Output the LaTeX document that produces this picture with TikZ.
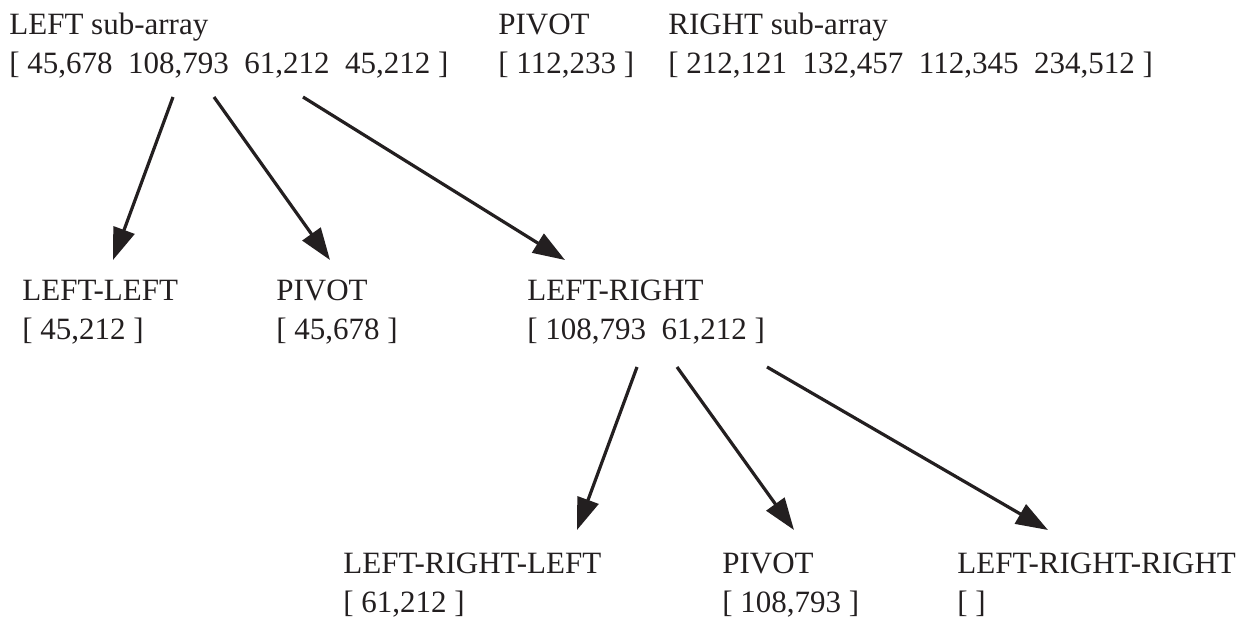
\documentclass[tikz,border=0pt]{standalone}
\usepackage{fontspec}
\setmainfont{Liberation Serif}
\usetikzlibrary{arrows.meta}
\definecolor{inkblack}{HTML}{231F20}
\begin{document}
\begin{tikzpicture}[x=0.5pt, y=-0.5pt]
                    \tikzset{part/.style={align=left, anchor=base west, inner sep=0pt, text=inkblack,
                                          font=\fontsize{15.5}{19.25}\selectfont},
                             split/.style={draw=inkblack, line width=1.6pt, -{Triangle[length=16pt, width=11pt]}}}
                    \useasboundingbox (0,0) rectangle (1253,622);
                    \node[part] (lsub) at (9,73)  {LEFT sub-array\\{[} 45,678~~108,793~~61,212~~45,212 ]}; %level 0
                    \node[part] (piv)  at (498,73) {PIVOT\\{[} 112,233 ]};
                    \node[part] (rsub) at (668,73) {RIGHT sub-array\\{[} 212,121~~132,457~~112,345~~234,512 ]};
                    \node[part] (ll)   at (22,339)  {LEFT-LEFT\\{[} 45,212 ]}; %level 1
                    \node[part] (lp)   at (276,339) {PIVOT\\{[} 45,678 ]};
                    \node[part] (lr)   at (527,339) {LEFT-RIGHT\\{[} 108,793~~61,212 ]};
                    \node[part] (lrl)  at (343,612) {LEFT-RIGHT-LEFT\\{[} 61,212 ]}; %level 2
                    \node[part] (lrp)  at (722,612) {PIVOT\\{[} 108,793 ]};
                    \node[part] (lrr)  at (957,612) {LEFT-RIGHT-RIGHT\\{[} ]};
                    \draw[split] ([shift={(164,24)}]lsub.base west) -- ([shift={(91,-79)}]ll.base west);
                    \draw[split] ([shift={(205,24)}]lsub.base west) -- ([shift={(54,-79)}]lp.base west);
                    \draw[split] ([shift={(294,24)}]lsub.base west) -- ([shift={(38,-79)}]lr.base west);
                    \draw[split] ([shift={(110,28)}]lr.base west) -- ([shift={(234,-82)}]lrl.base west);
                    \draw[split] ([shift={(150,28)}]lr.base west) -- ([shift={(72,-82)}]lrp.base west);
                    \draw[split] ([shift={(240,28)}]lr.base west) -- ([shift={(91,-82)}]lrr.base west);
                \end{tikzpicture}
\end{document}
